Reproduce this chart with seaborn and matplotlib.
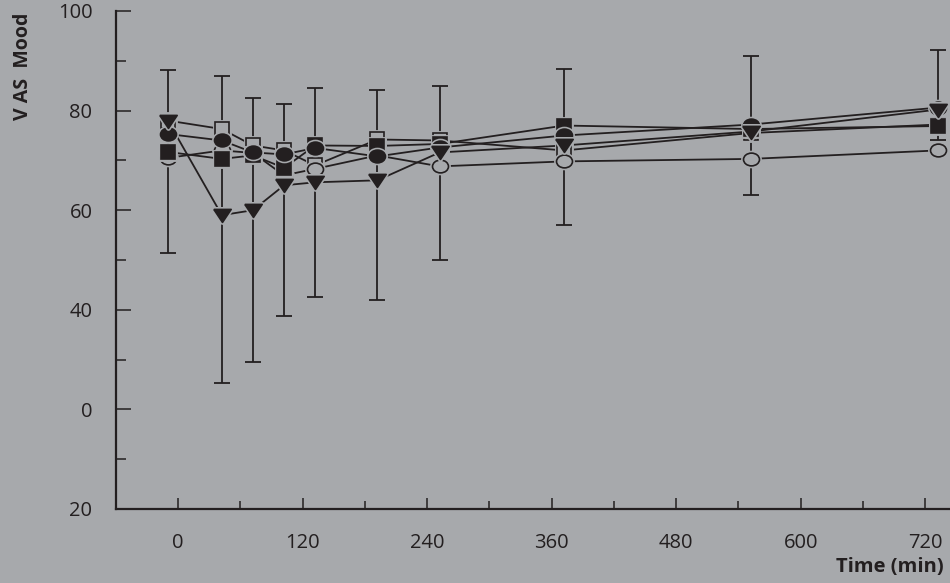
import numpy as np
import pandas as pd
import seaborn as sns
from matplotlib import pyplot as plt
from matplotlib.path import Path
from matplotlib.transforms import Affine2D

# Time points (min) and mean VAS mood per treatment group
times = [-10, 42, 72, 102, 132, 192, 252, 372, 552, 732]
open_circle = [70.5, 72.0, 71.5, 67.0, 68.3, 71.0, 68.8, 69.8, 70.3, 72.0]
open_square = [78.0, 76.3, 73.0, 72.0, 69.0, 74.2, 74.0, 72.0, 75.5, 77.2]
filled_square = [71.7, 70.3, 71.0, 68.5, 73.0, 72.9, 73.3, 77.0, 76.3, 76.9]
filled_circle = [75.3, 74.0, 71.6, 71.2, 72.5, 70.8, 72.6, 75.0, 77.2, 80.6]
triangle = [78.0, 59.0, 60.0, 65.0, 65.6, 66.0, 71.6, 73.0, 75.8, 80.2]

# Ends of the error bars at each time point
err_top = [88.1, 86.9, 82.6, 81.3, 84.6, 84.1, 84.9, 88.3, 91.0, 92.2]
err_bottom = [51.5, 25.4, 29.6, 38.7, 42.5, 42.0, 50.0, 57.1, 63.1, 74.1]

x_ticks = [0, 120, 240, 360, 480, 600, 720]
y_ticks = [0, 20, 40, 60, 80, 100]
y_tick_labels = ["20", "0", "40", "60", "80", "100"]

BG = "#a7a9ac"
INK = "#231f20"

sns.set_theme(style="ticks")
plt.rcParams["font.family"] = ["Open Sans", "DejaVu Sans"]

# Slightly flattened marker shapes, as in the original figure
ellipse = Path.unit_circle().transformed(Affine2D().scale(1.0, 0.8))
wide_tri = [(-1.0, 0.7), (1.0, 0.7), (0.0, -0.8), (-1.0, 0.7)]

# Draw order, back to front: marker, filled?, size
series = {
    "open_square": (open_square, "s", False, 10),
    "open_circle": (open_circle, ellipse, False, 11.5),
    "filled_square": (filled_square, "s", True, 10),
    "filled_circle": (filled_circle, ellipse, True, 11.5),
    "triangle": (triangle, wide_tri, True, 12.5),
}

df = pd.concat(
    [pd.DataFrame({"time": times, "mood": vals, "series": name}) for name, (vals, _, _, _) in series.items()],
    ignore_index=True,
)

fig = plt.figure(figsize=(9.5, 5.83), dpi=100, facecolor=BG)
ax = fig.add_axes([116 / 950, 74 / 583, 834 / 950, 498 / 583])
ax.set_facecolor(BG)

sns.lineplot(data=df, x="time", y="mood", hue="series", estimator=None, sort=False,
             palette={name: INK for name in series}, legend=False, linewidth=1.3, ax=ax, zorder=2)

top = np.array(err_top)
bottom = np.array(err_bottom)
ax.errorbar(times, (top + bottom) / 2, yerr=(top - bottom) / 2, fmt="none", ecolor=INK,
            elinewidth=1.3, capsize=6, capthick=1.3, zorder=3)

z = 4
for name, (vals, marker, filled, size) in series.items():
    # background halo so that lines stop short of the markers
    ax.plot(times, vals, linestyle="none", marker=marker, markersize=size, color=BG,
            markeredgecolor=BG, markeredgewidth=3.5, zorder=z)
    ax.plot(times, vals, linestyle="none", marker=marker, markersize=size,
            markerfacecolor=INK if filled else BG, markeredgecolor=INK,
            markeredgewidth=1.2, zorder=z + 0.5)
    z += 1

ax.set_xlim(-60, 744)
ax.set_ylim(0, 99.6)
ax.set_xticks(x_ticks)
ax.set_xticks(np.arange(60, 720, 120), minor=True)
ax.set_yticks(y_ticks)
ax.set_yticklabels(y_tick_labels)
ax.set_yticks([10, 30, 50, 70, 90], minor=True)

ax.tick_params(axis="both", which="both", direction="in", colors=INK, labelcolor=INK, width=1.1)
ax.tick_params(axis="y", which="major", length=10.5, pad=17, labelsize=14.5)
ax.tick_params(axis="y", which="minor", length=7.5)
ax.tick_params(axis="x", which="major", length=8, pad=17, labelsize=14.5)
ax.tick_params(axis="x", which="minor", length=5.5)

sns.despine(ax=ax)
for side in ["left", "bottom"]:
    ax.spines[side].set_color(INK)
    ax.spines[side].set_linewidth(1.6)

ax.set_xlabel("")
ax.set_ylabel("")
fig.text(0.024, 0.978, "V AS  Mood", rotation=90, ha="center", va="top",
         fontsize=14, fontweight="bold", color=INK)
fig.text(0.993, 0.028, "Time (min)", ha="right", va="center",
         fontsize=14.5, fontweight="bold", color=INK)

fig.savefig("out.png", dpi=100, facecolor=BG)
